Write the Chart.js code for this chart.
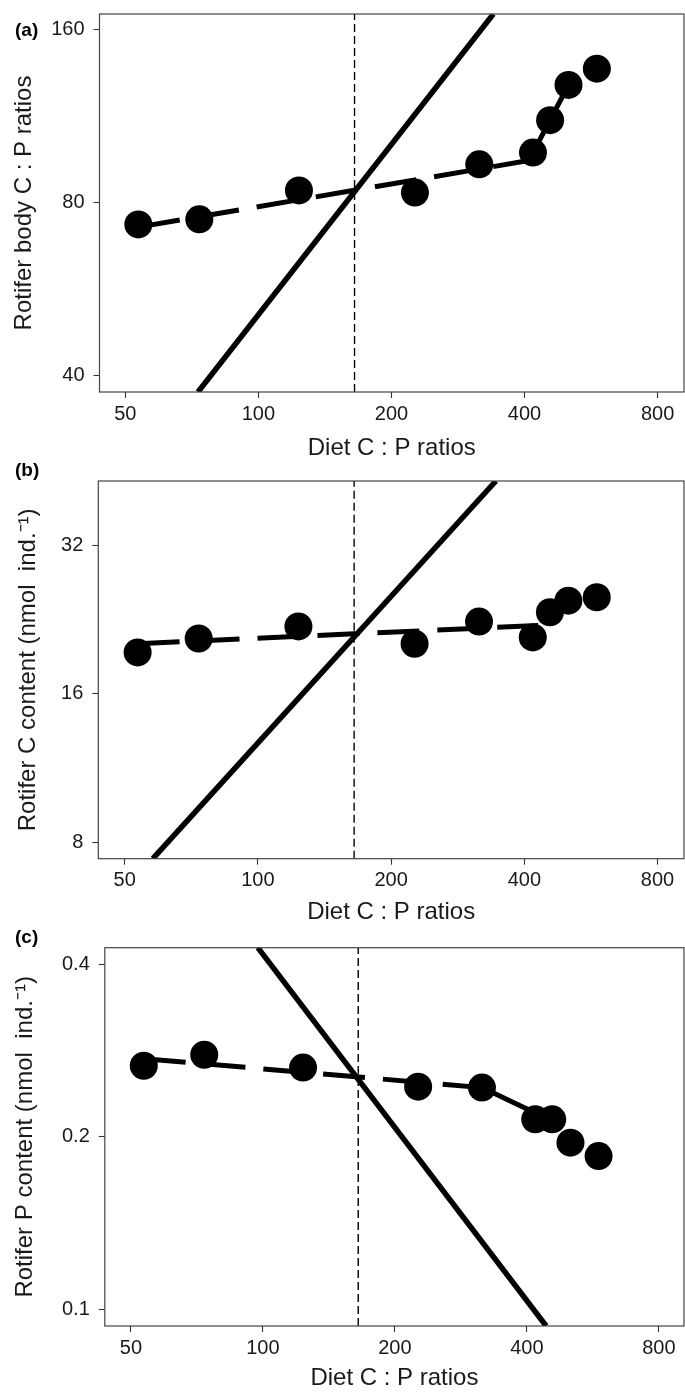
<!DOCTYPE html>
<html>
<head>
<meta charset="utf-8">
<script src="https://cdn.jsdelivr.net/npm/chart.js@4.4.0/dist/chart.umd.min.js"></script>
<style>
  html, body { margin: 0; padding: 0; background: #fff; }
  body { width: 685px; height: 1395px; position: relative; overflow: hidden; }
  .panel { position: absolute; left: 0; width: 685px; }
</style>
</head>
<body>
<div class="panel" style="top:0;height:462px"><canvas id="panelA" width="685" height="462"></canvas></div>
<div class="panel" style="top:462px;height:463px"><canvas id="panelB" width="685" height="463"></canvas></div>
<div class="panel" style="top:925px;height:470px"><canvas id="panelC" width="685" height="470"></canvas></div>
<script>
// diet C:P ratios of the nine treatments (x, log scale)
const dietCP = [53.5, 73.5, 123.5, 226, 316, 418, 457, 503, 583];

// rotifer responses
const bodyCP = [73.3, 74.8, 84.0, 83.3, 93.3, 97.8, 111.4, 128.3, 137];
const carbonContent = [19.4, 20.7, 21.9, 20.2, 22.4, 20.8, 23.4, 24.7, 25.1];
const phosphorusContent = [0.266, 0.278, 0.264, 0.2445, 0.2436, 0.2144, 0.2144, 0.1952, 0.185];

// tick labels
const xTicks = [50, 100, 200, 400, 800];
const bodyTicks = [40, 80, 160];
const carbonTicks = [8, 16, 32];
const phosphorusTicks = [0.1, 0.2, 0.4];

// threshold diet C:P (vertical dashed line)
const thresholdCP = 165;

// fitted lines, read at their ends
const bodyDashX = [53.5, 418];
const bodyDashY = [72.5, 95];
const bodySolidX = [418, 503];
const bodySolidY = [97.8, 128.3];
const bodySteepX = [73, 340];
const bodySteepY = [37.4, 170.6];

const carbonDashX = [53.5, 430];
const carbonDashY = [20.2, 22.0];
const carbonSteepX = [57.9, 345];
const carbonSteepY = [7.4, 43.2];

const phosDashX = [53.5, 316];
const phosDashY = [0.2737, 0.2436];
const phosSolidX = [316, 457];
const phosSolidY = [0.2436, 0.213];
const phosSteepX = [97.4, 442.6];
const phosSteepY = [0.4276, 0.0934];

const FONT = '"Liberation Sans", Arial, Helvetica, sans-serif';
const INK = '#1a1a1a';

function pairs(xs, ys) {
    return xs.map((x, i) => ({ x: x, y: ys[i] }));
}

const panelDecor = {
    id: 'panelDecor',
    afterDatasetsDraw(chart) {
        const a = chart.chartArea;
        const ctx = chart.ctx;
        ctx.save();
        ctx.strokeStyle = '#444';
        ctx.lineWidth = 1.2;
        ctx.strokeRect(a.left, a.top, a.right - a.left, a.bottom - a.top);
        ctx.restore();
    },
    afterDraw(chart, args, opts) {
        const ctx = chart.ctx;
        ctx.save();
        ctx.fillStyle = '#000';
        ctx.font = 'bold 19px ' + FONT;
        ctx.textBaseline = 'middle';
        ctx.textAlign = 'left';
        ctx.fillText(opts.label, 15, opts.labelY);
        ctx.restore();
    }
};

function makePanel(id, p) {
    const lines = [];
    lines.push({
        label: 'fit (dashed)',
        data: pairs(p.dashX, p.dashY),
        showLine: true, borderColor: '#000', borderWidth: 5,
        borderDash: [42, 18], pointRadius: 0, clip: 0
    });
    if (p.solidX) {
        lines.push({
            label: 'fit (solid)',
            data: pairs(p.solidX, p.solidY),
            showLine: true, borderColor: '#000', borderWidth: 5,
            pointRadius: 0, clip: 0
        });
    }
    lines.push({
        label: 'steep line',
        data: pairs(p.steepX, p.steepY),
        showLine: true, borderColor: '#000', borderWidth: 5.5,
        pointRadius: 0, clip: 0
    });
    lines.push({
        label: 'threshold',
        data: [{ x: thresholdCP, y: p.yMin }, { x: thresholdCP, y: p.yMax }],
        showLine: true, borderColor: '#000', borderWidth: 1.4,
        borderDash: [8, 4], pointRadius: 0, clip: 0
    });

    const data = {
        datasets: [{
            label: 'observed',
            data: pairs(dietCP, p.values),
            pointRadius: 14,
            pointBackgroundColor: '#000',
            pointBorderWidth: 0,
            showLine: false
        }].concat(lines)
    };

    const tickGrid = { drawOnChartArea: false, drawTicks: true, tickLength: 6, tickColor: '#333', tickWidth: 1.1 };

    const config = {
        type: 'scatter',
        data: data,
        plugins: [panelDecor],
        options: {
            responsive: false,
            animation: false,
            devicePixelRatio: 1,
            layout: { autoPadding: false, padding: { top: p.top, right: 1, left: 0, bottom: 0 } },
            plugins: {
                legend: { display: false },
                tooltip: { enabled: false },
                panelDecor: { label: p.label, labelY: p.labelY }
            },
            scales: {
                x: {
                    type: 'logarithmic',
                    min: p.xMin, max: p.xMax,
                    afterBuildTicks: s => { s.ticks = xTicks.map(v => ({ value: v })); },
                    afterFit: s => { s.height = p.height - p.bottom; s.paddingLeft = 0; s.paddingRight = 0; },
                    ticks: {
                        color: INK, font: { size: 20, family: FONT }, padding: 4,
                        maxRotation: 0, autoSkip: false, callback: v => String(v)
                    },
                    grid: tickGrid,
                    border: { display: false },
                    title: {
                        display: true, text: 'Diet C : P ratios', color: INK,
                        font: { size: 24, family: FONT, lineHeight: 1 },
                        padding: { top: 0, bottom: p.xTitlePad }
                    }
                },
                y: {
                    type: 'logarithmic',
                    min: p.yMin, max: p.yMax,
                    afterBuildTicks: s => { s.ticks = p.yTicks.map(v => ({ value: v })); },
                    afterFit: s => { s.width = p.left; s.paddingTop = 0; s.paddingBottom = 0; },
                    ticks: {
                        color: INK, font: { size: 20, family: FONT }, padding: 9,
                        autoSkip: false, callback: v => String(v)
                    },
                    grid: tickGrid,
                    border: { display: false },
                    title: {
                        display: true, text: p.yTitle, color: INK,
                        font: { size: 24, family: FONT, lineHeight: 1 },
                        padding: { top: p.yTitlePad, bottom: 0 }
                    }
                }
            }
        }
    };

    new Chart(document.getElementById(id), config);
}

function drawAll() {
    makePanel('panelA', {
        label: '(a)', labelY: 31,
        height: 462, top: 14, bottom: 392, left: 99.5,
        xTitlePad: 2, yTitlePad: 12,
        xMin: 43.7, xMax: 918, yMin: 37.4, yMax: 170.6,
        yTicks: bodyTicks, values: bodyCP,
        yTitle: 'Rotifer body C : P ratios',
        dashX: bodyDashX, dashY: bodyDashY,
        solidX: bodySolidX, solidY: bodySolidY,
        steepX: bodySteepX, steepY: bodySteepY
    });

    makePanel('panelB', {
        label: '(b)', labelY: 8.5,
        height: 463, top: 19, bottom: 396.7, left: 98.3,
        xTitlePad: 0.3, yTitlePad: 16,
        xMin: 43.6, xMax: 918, yMin: 7.4, yMax: 43.2,
        yTicks: carbonTicks, values: carbonContent,
        yTitle: 'Rotifer C content (nmol  ind.\u207B\u00B9)',
        dashX: carbonDashX, dashY: carbonDashY,
        steepX: carbonSteepX, steepY: carbonSteepY
    });

    makePanel('panelC', {
        label: '(c)', labelY: 13,
        height: 470, top: 22.7, bottom: 401, left: 104.8,
        xTitlePad: 5, yTitlePad: 13,
        xMin: 43.6, xMax: 913, yMin: 0.0934, yMax: 0.4276,
        yTicks: phosphorusTicks, values: phosphorusContent,
        yTitle: 'Rotifer P content (nmol  ind.\u207B\u00B9)',
        dashX: phosDashX, dashY: phosDashY,
        solidX: phosSolidX, solidY: phosSolidY,
        steepX: phosSteepX, steepY: phosSteepY
    });
}

document.addEventListener('DOMContentLoaded', function () {
    drawAll();
});
</script>
</body>
</html>
